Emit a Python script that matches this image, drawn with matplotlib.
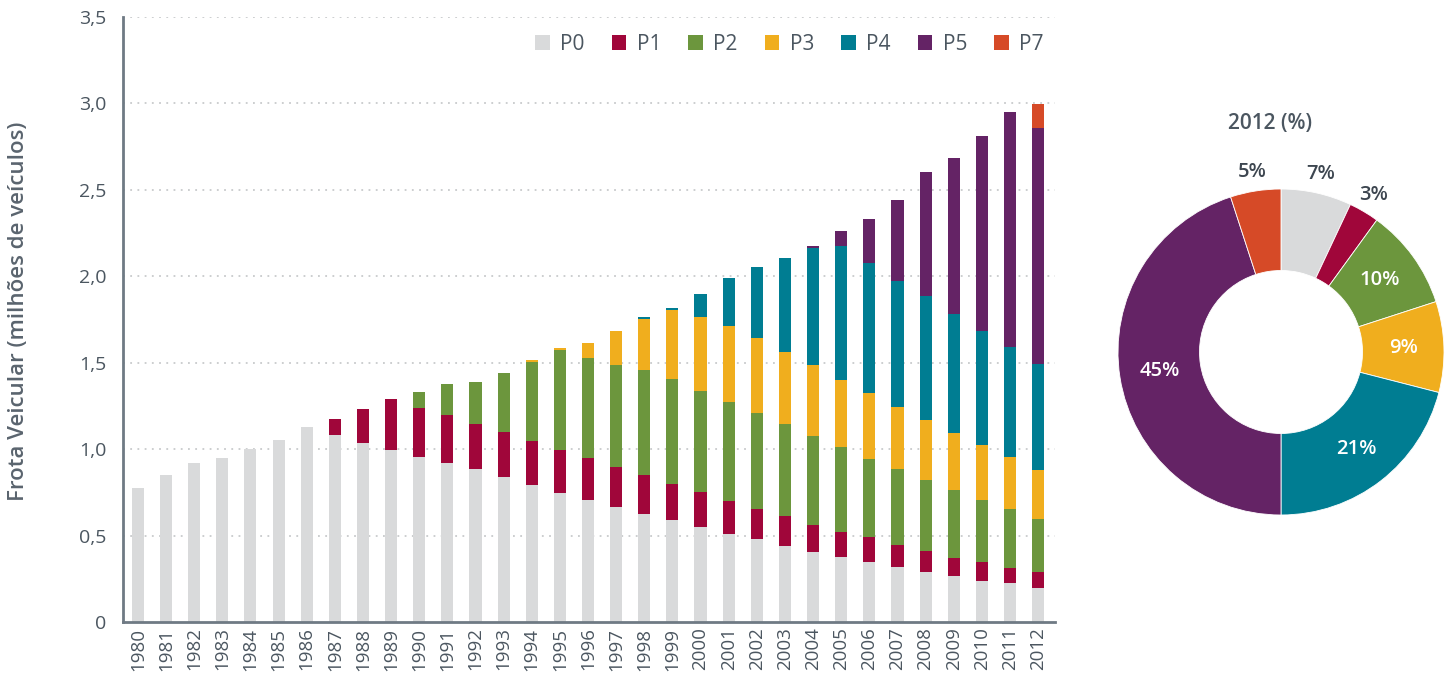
import matplotlib
matplotlib.use("Agg")
import matplotlib.pyplot as plt
import numpy as np

plt.rcParams['font.family'] = ['Open Sans', 'DejaVu Sans']

years = list(range(1980, 2013))
series_names = ["P0", "P1", "P2", "P3", "P4", "P5", "P7"]
colors = ["#d9dadb", "#a0063a", "#6c963d", "#f0ae1e", "#007d92", "#642365", "#d64a27"]

p0 = [0.776, 0.851, 0.921, 0.950, 1.002, 1.054, 1.129, 1.083, 1.037, 0.996,
      0.955, 0.921, 0.886, 0.840, 0.794, 0.748, 0.707, 0.667, 0.626, 0.591,
      0.551, 0.511, 0.480, 0.440, 0.406, 0.377, 0.349, 0.319, 0.291, 0.267,
      0.237, 0.227, 0.197]
p1 = [0, 0, 0, 0, 0, 0, 0, 0.092, 0.196, 0.295,
      0.284, 0.277, 0.260, 0.260, 0.254, 0.248, 0.243, 0.231, 0.226, 0.209,
      0.203, 0.190, 0.173, 0.173, 0.155, 0.145, 0.143, 0.127, 0.119, 0.104,
      0.112, 0.087, 0.094]
p2 = [0, 0, 0, 0, 0, 0, 0, 0, 0, 0,
      0.093, 0.180, 0.244, 0.342, 0.457, 0.579, 0.578, 0.590, 0.607, 0.607,
      0.583, 0.572, 0.555, 0.531, 0.514, 0.489, 0.452, 0.440, 0.412, 0.394,
      0.358, 0.339, 0.305]
p3 = [0, 0, 0, 0, 0, 0, 0, 0, 0, 0,
      0, 0, 0, 0, 0.012, 0.011, 0.087, 0.196, 0.295, 0.399,
      0.428, 0.440, 0.434, 0.416, 0.412, 0.388, 0.379, 0.358, 0.346, 0.328,
      0.316, 0.300, 0.284]
p4 = [0, 0, 0, 0, 0, 0, 0, 0, 0, 0,
      0, 0, 0, 0, 0, 0, 0, 0, 0.011, 0.011,
      0.133, 0.277, 0.409, 0.543, 0.674, 0.774, 0.752, 0.726, 0.716, 0.688,
      0.658, 0.637, 0.610]
p5 = [0, 0, 0, 0, 0, 0, 0, 0, 0, 0,
      0, 0, 0, 0, 0, 0, 0, 0, 0, 0,
      0, 0, 0, 0, 0.012, 0.087, 0.259, 0.469, 0.722, 0.901,
      1.132, 1.362, 1.365]
p7 = [0] * 32 + [0.143]

pie_labels = ["7%", "3%", "10%", "9%", "21%", "45%", "5%"]
pie_values = [7, 3, 10, 9, 21, 45, 5]
pie_title = "2012 (%)"

y_ticks = [0, 0.5, 1.0, 1.5, 2.0, 2.5, 3.0, 3.5]
y_ticklabels = ["0", "0,5", "1,0", "1,5", "2,0", "2,5", "3,0", "3,5"]
y_label = "Frota Veicular (milhões de veículos)"

text_gray = "#4b5660"
spine_gray = "#6f7a84"

W, H = 1445, 685
fig = plt.figure(figsize=(W / 100, H / 100), dpi=100)

# ---------- Bar chart ----------
ax = fig.add_axes([123 / W, 1 - 622 / H, (1055 - 123) / W, (622 - 17) / H])
x = np.arange(len(years))
bottom = np.zeros(len(years))
for name, vals, c in zip(series_names, [p0, p1, p2, p3, p4, p5, p7], colors):
    v = np.array(vals)
    ax.bar(x, v, width=0.43, bottom=bottom, color=c, label=name, zorder=2, linewidth=0)
    bottom += v

ax.set_xlim(-0.53, len(years) - 0.4)
ax.set_ylim(0, 3.5)
ax.set_yticks(y_ticks)
ax.set_yticklabels(y_ticklabels)
ax.set_xticks(x)
ax.set_xticklabels([str(y) for y in years], rotation=90)
ax.tick_params(axis='both', length=0, colors=text_gray)
ax.tick_params(axis='y', labelsize=14, pad=12)
ax.tick_params(axis='x', labelsize=13.5, pad=4)
for yv in y_ticks[1:]:
    ax.axhline(yv, color="#c8cacc", linestyle=(0, (1, 3)), linewidth=1.3, zorder=1)
for s in ["top", "right"]:
    ax.spines[s].set_visible(False)
for s in ["left", "bottom"]:
    ax.spines[s].set_color(spine_gray)
    ax.spines[s].set_linewidth(2)
ax.set_ylabel(y_label, fontsize=16, color="#5a646e", fontweight="semibold")
ax.yaxis.set_label_coords(-(123 - 29) / 932, (622 - 311) / 605)

leg = ax.legend(loc="center right", bbox_to_anchor=(0.997, 0.955), ncol=7, frameon=False,
                fontsize=15, handlelength=0.7, handleheight=0.7, handletextpad=0.5,
                columnspacing=1.3, borderaxespad=0)
for t in leg.get_texts():
    t.set_color(text_gray)

# ---------- Donut ----------
R = 163
cx, cy = 1281, 352
side = R * 2.4
pax = fig.add_axes([(cx - side / 2) / W, (H - cy - side / 2) / H, side / W, side / H])
wedges, _ = pax.pie(pie_values, colors=colors, startangle=90, counterclock=False,
                    radius=1, wedgeprops=dict(width=0.5, edgecolor="white", linewidth=0.6))
pax.set_xlim(-1.2, 1.2)
pax.set_ylim(-1.2, 1.2)
pax.set_aspect("equal")
pax.axis("off")
for w, lab in zip(wedges, pie_labels):
    ang = np.deg2rad((w.theta1 + w.theta2) / 2)
    frac = (w.theta2 - w.theta1) / 360
    if frac < 0.08:
        r = 1.12
        col = "#3d4650"
    else:
        r = 0.75
        col = "white"
    pax.text(r * np.cos(ang), r * np.sin(ang), lab, ha="center", va="center",
             fontsize=14.5, fontweight="semibold", color=col)

fig.text(1270 / W, 1 - 123 / H, pie_title, ha="center", va="center", fontsize=15,
         fontweight="semibold", color="#4b5660")

fig.savefig("out.png", dpi=100)
